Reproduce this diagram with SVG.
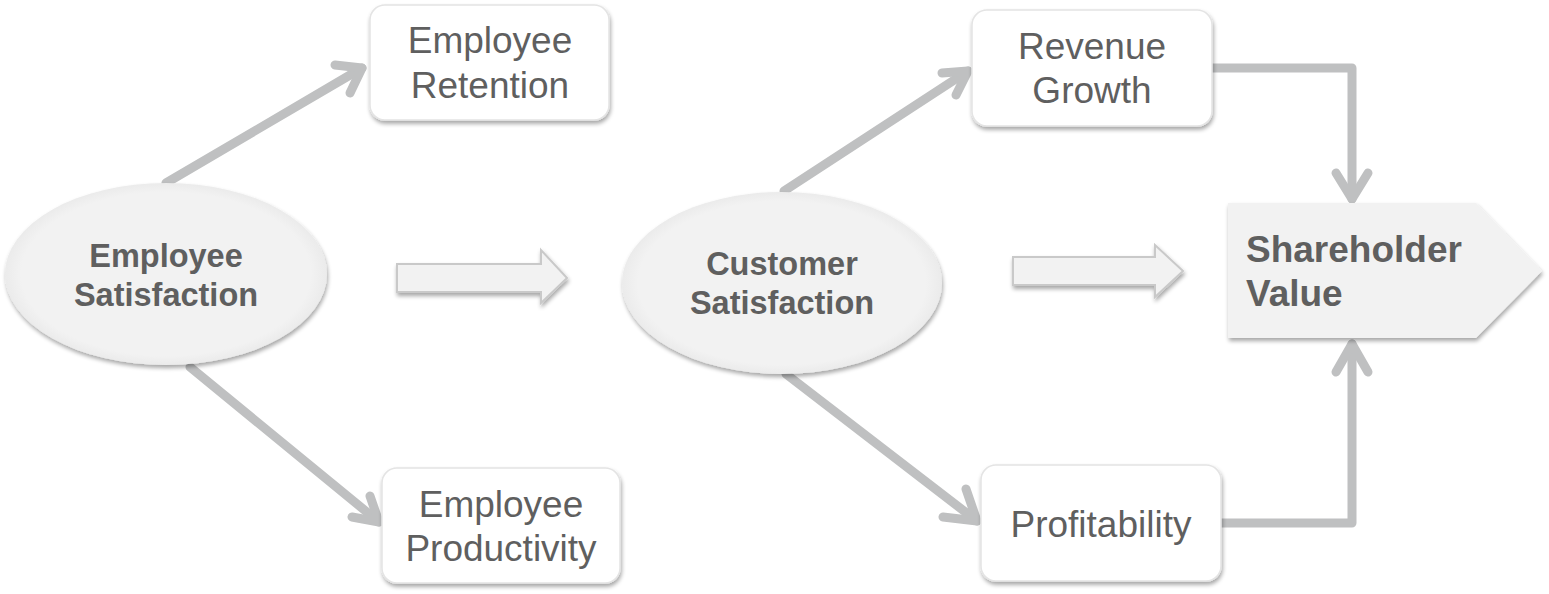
<svg xmlns="http://www.w3.org/2000/svg" width="1549" height="594" viewBox="0 0 1549 594">
<defs>
<filter id="sh" x="-10%" y="-10%" width="125%" height="130%">
<feGaussianBlur in="SourceAlpha" stdDeviation="2"/>
<feOffset dx="1" dy="3" result="b"/>
<feComponentTransfer><feFuncA type="linear" slope="0.35"/></feComponentTransfer>
<feMerge><feMergeNode/><feMergeNode in="SourceGraphic"/></feMerge>
</filter>
<radialGradient id="eg" cx="50%" cy="50%" r="50%">
<stop offset="0.9" stop-color="#f2f2f2"/>
<stop offset="1" stop-color="#ebebeb"/>
</radialGradient>
</defs>
<style>
.box{fill:#ffffff;stroke:#e4e4e4;stroke-width:1.5}
.ell{fill:url(#eg)}
.blk{fill:#f2f2f2;stroke:#c9c9c9;stroke-width:2}
.con{fill:none;stroke:#bfc0c1;stroke-width:9;stroke-linecap:round;stroke-linejoin:round}
.t{font-family:"Liberation Sans",Arial,sans-serif;font-size:37px;fill:#5f5f5f;text-anchor:middle}
.b{font-family:"Liberation Sans",Arial,sans-serif;font-size:32.5px;font-weight:bold;fill:#5f5f5f;text-anchor:middle}
.bl{font-family:"Liberation Sans",Arial,sans-serif;font-size:37px;font-weight:bold;fill:#5f5f5f}
</style>
<rect width="1549" height="594" fill="#ffffff"/>
<g id="connectors">
<path class="con" d="M166 183 L362 68"/>
<path class="con" d="M335 65 L362 68 L350 93"/>
<path class="con" d="M190 367 L379 522"/>
<path class="con" d="M352 517 L379 522 L370 496"/>
<path class="con" d="M784 191 L968 71"/>
<path class="con" d="M942 73 L968 71 L956 95"/>
<path class="con" d="M786 374 L977 521"/>
<path class="con" d="M943 517 L977 521 L966 489"/>
<path class="con" d="M1212 68 L1352 68 L1352 199"/>
<path class="con" d="M1336 173 L1352 199 L1368 173"/>
<path class="con" d="M1221 523 L1352 523 L1352 344"/>
<path class="con" d="M1336 372 L1352 344 L1368 372"/>
</g>
<g id="arrow1" filter="url(#sh)">
<path class="blk" d="M397 264 L541 264 L541 250 L567 278 L541 303 L541 292 L397 292 Z"/>
</g>
<g id="arrow2" filter="url(#sh)">
<path class="blk" d="M1013 257 L1155 257 L1155 245 L1183 271 L1155 297 L1155 285 L1013 285 Z"/>
</g>
<g id="employee-satisfaction">
<ellipse class="ell" cx="166" cy="274" rx="161" ry="91" filter="url(#sh)"/>
<text class="b" x="166" y="267">Employee</text>
<text class="b" x="166" y="306">Satisfaction</text>
</g>
<g id="customer-satisfaction">
<ellipse class="ell" cx="782" cy="283" rx="160" ry="91" filter="url(#sh)"/>
<text class="b" x="782" y="275">Customer</text>
<text class="b" x="782" y="314">Satisfaction</text>
</g>
<g id="employee-retention">
<rect class="box" x="370" y="5" width="239" height="115" rx="15" filter="url(#sh)"/>
<text class="t" x="490" y="53">Employee</text>
<text class="t" x="490" y="98">Retention</text>
</g>
<g id="employee-productivity">
<rect class="box" x="382" y="468" width="238" height="115" rx="15" filter="url(#sh)"/>
<text class="t" x="501" y="517">Employee</text>
<text class="t" x="501" y="561">Productivity</text>
</g>
<g id="revenue-growth">
<rect class="box" x="972" y="10" width="240" height="116" rx="15" filter="url(#sh)"/>
<text class="t" x="1092" y="59">Revenue</text>
<text class="t" x="1092" y="103">Growth</text>
</g>
<g id="profitability">
<rect class="box" x="981" y="465" width="240" height="116" rx="15" filter="url(#sh)"/>
<text class="t" x="1101" y="537">Profitability</text>
</g>
<g id="shareholder-value">
<path d="M1228 203 L1476 203 L1542 271 L1476 338 L1228 338 Z" fill="#f2f2f2" filter="url(#sh)"/>
<text class="bl" x="1246" y="262">Shareholder</text>
<text class="bl" x="1246" y="306">Value</text>
</g>
</svg>
